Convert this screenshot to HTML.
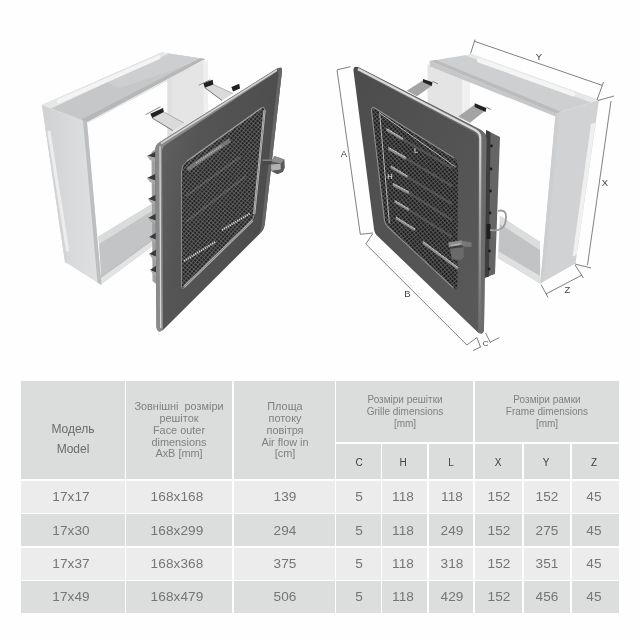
<!DOCTYPE html>
<html lang="uk"><head><meta charset="utf-8"><title>Grille dimensions</title>
<style>
html,body{margin:0;padding:0;background:#fefefe;}
body{width:640px;height:640px;position:relative;overflow:hidden;font-family:"Liberation Sans",sans-serif;}
#art{will-change:transform;position:absolute;left:0;top:0;width:640px;height:370px;}
.c{position:absolute;background:#dbdcdc;}
.l{background:#ececec;}
.d{background:#dcdddd;}
.t{will-change:transform;position:absolute;text-align:center;color:#707070;white-space:nowrap;transform:translate(-50%,-50%);}
.n{font-size:13.6px;letter-spacing:0.1px;color:#757575;}
.h{font-size:10.9px;line-height:11.85px;color:#808080;}
.h2{font-size:10px;}
.m{font-size:12px;color:#6a6a6a;}
.s{font-size:10px;color:#404040;}
</style></head><body>
<div class="c " style="left:20.8px;top:381.0px;width:104.0px;height:98.4px"></div>
<div class="c " style="left:126.3px;top:381.0px;width:106.1px;height:98.4px"></div>
<div class="c " style="left:233.9px;top:381.0px;width:100.9px;height:98.4px"></div>
<div class="c " style="left:336.3px;top:381.0px;width:137.2px;height:61.4px"></div>
<div class="c " style="left:475.0px;top:381.0px;width:144.2px;height:61.4px"></div>
<div class="c " style="left:336.3px;top:443.9px;width:44.6px;height:35.5px"></div>
<div class="c " style="left:382.4px;top:443.9px;width:45.0px;height:35.5px"></div>
<div class="c " style="left:428.9px;top:443.9px;width:44.6px;height:35.5px"></div>
<div class="c " style="left:475.0px;top:443.9px;width:47.2px;height:35.5px"></div>
<div class="c " style="left:523.7px;top:443.9px;width:46.7px;height:35.5px"></div>
<div class="c " style="left:571.9px;top:443.9px;width:47.3px;height:35.5px"></div>
<div class="c l" style="left:20.8px;top:480.9px;width:104.0px;height:31.9px"></div>
<div class="c l" style="left:126.3px;top:480.9px;width:106.1px;height:31.9px"></div>
<div class="c l" style="left:233.9px;top:480.9px;width:100.9px;height:31.9px"></div>
<div class="c l" style="left:336.3px;top:480.9px;width:44.6px;height:31.9px"></div>
<div class="c l" style="left:382.4px;top:480.9px;width:45.0px;height:31.9px"></div>
<div class="c l" style="left:428.9px;top:480.9px;width:44.6px;height:31.9px"></div>
<div class="c l" style="left:475.0px;top:480.9px;width:47.2px;height:31.9px"></div>
<div class="c l" style="left:523.7px;top:480.9px;width:46.7px;height:31.9px"></div>
<div class="c l" style="left:571.9px;top:480.9px;width:47.3px;height:31.9px"></div>
<div class="c d" style="left:20.8px;top:514.3px;width:104.0px;height:32.0px"></div>
<div class="c d" style="left:126.3px;top:514.3px;width:106.1px;height:32.0px"></div>
<div class="c d" style="left:233.9px;top:514.3px;width:100.9px;height:32.0px"></div>
<div class="c d" style="left:336.3px;top:514.3px;width:44.6px;height:32.0px"></div>
<div class="c d" style="left:382.4px;top:514.3px;width:45.0px;height:32.0px"></div>
<div class="c d" style="left:428.9px;top:514.3px;width:44.6px;height:32.0px"></div>
<div class="c d" style="left:475.0px;top:514.3px;width:47.2px;height:32.0px"></div>
<div class="c d" style="left:523.7px;top:514.3px;width:46.7px;height:32.0px"></div>
<div class="c d" style="left:571.9px;top:514.3px;width:47.3px;height:32.0px"></div>
<div class="c l" style="left:20.8px;top:547.8px;width:104.0px;height:31.9px"></div>
<div class="c l" style="left:126.3px;top:547.8px;width:106.1px;height:31.9px"></div>
<div class="c l" style="left:233.9px;top:547.8px;width:100.9px;height:31.9px"></div>
<div class="c l" style="left:336.3px;top:547.8px;width:44.6px;height:31.9px"></div>
<div class="c l" style="left:382.4px;top:547.8px;width:45.0px;height:31.9px"></div>
<div class="c l" style="left:428.9px;top:547.8px;width:44.6px;height:31.9px"></div>
<div class="c l" style="left:475.0px;top:547.8px;width:47.2px;height:31.9px"></div>
<div class="c l" style="left:523.7px;top:547.8px;width:46.7px;height:31.9px"></div>
<div class="c l" style="left:571.9px;top:547.8px;width:47.3px;height:31.9px"></div>
<div class="c d" style="left:20.8px;top:581.3px;width:104.0px;height:31.9px"></div>
<div class="c d" style="left:126.3px;top:581.3px;width:106.1px;height:31.9px"></div>
<div class="c d" style="left:233.9px;top:581.3px;width:100.9px;height:31.9px"></div>
<div class="c d" style="left:336.3px;top:581.3px;width:44.6px;height:31.9px"></div>
<div class="c d" style="left:382.4px;top:581.3px;width:45.0px;height:31.9px"></div>
<div class="c d" style="left:428.9px;top:581.3px;width:44.6px;height:31.9px"></div>
<div class="c d" style="left:475.0px;top:581.3px;width:47.2px;height:31.9px"></div>
<div class="c d" style="left:523.7px;top:581.3px;width:46.7px;height:31.9px"></div>
<div class="c d" style="left:571.9px;top:581.3px;width:47.3px;height:31.9px"></div>
<div class="t m" style="left:73.0px;top:429.0px">Модель</div>
<div class="t m" style="left:73.0px;top:448.5px">Model</div>
<div class="t h" style="left:179.0px;top:430.5px">Зовнішні&nbsp; розміри<br>решіток<br>Face outer<br>dimensions<br>AxB [mm]</div>
<div class="t h" style="left:285.0px;top:430.5px">Площа<br>потоку<br>повітря<br>Air flow in<br>[cm]</div>
<div class="t h h2" style="left:405.0px;top:412.0px">Розміри решітки<br>Grille dimensions<br>[mm]</div>
<div class="t h h2" style="left:546.5px;top:412.0px">Розміри рамки<br>Frame dimensions<br>[mm]</div>
<div class="t s" style="left:358.5px;top:462.0px">C</div>
<div class="t s" style="left:402.5px;top:462.0px">H</div>
<div class="t s" style="left:450.5px;top:462.0px">L</div>
<div class="t s" style="left:498.0px;top:462.0px">X</div>
<div class="t s" style="left:546.0px;top:462.0px">Y</div>
<div class="t s" style="left:593.5px;top:462.0px">Z</div>
<div class="t n" style="left:70.5px;top:496.3px">17x17</div>
<div class="t n" style="left:176.5px;top:496.3px">168x168</div>
<div class="t n" style="left:285.0px;top:496.3px">139</div>
<div class="t n" style="left:358.5px;top:496.3px">5</div>
<div class="t n" style="left:402.5px;top:496.3px">118</div>
<div class="t n" style="left:451.5px;top:496.3px">118</div>
<div class="t n" style="left:498.5px;top:496.3px">152</div>
<div class="t n" style="left:546.5px;top:496.3px">152</div>
<div class="t n" style="left:593.5px;top:496.3px">45</div>
<div class="t n" style="left:70.5px;top:530.0px">17x30</div>
<div class="t n" style="left:176.5px;top:530.0px">168x299</div>
<div class="t n" style="left:285.0px;top:530.0px">294</div>
<div class="t n" style="left:358.5px;top:530.0px">5</div>
<div class="t n" style="left:402.5px;top:530.0px">118</div>
<div class="t n" style="left:451.5px;top:530.0px">249</div>
<div class="t n" style="left:498.5px;top:530.0px">152</div>
<div class="t n" style="left:546.5px;top:530.0px">275</div>
<div class="t n" style="left:593.5px;top:530.0px">45</div>
<div class="t n" style="left:70.5px;top:563.3px">17x37</div>
<div class="t n" style="left:176.5px;top:563.3px">168x368</div>
<div class="t n" style="left:285.0px;top:563.3px">375</div>
<div class="t n" style="left:358.5px;top:563.3px">5</div>
<div class="t n" style="left:402.5px;top:563.3px">118</div>
<div class="t n" style="left:451.5px;top:563.3px">318</div>
<div class="t n" style="left:498.5px;top:563.3px">152</div>
<div class="t n" style="left:546.5px;top:563.3px">351</div>
<div class="t n" style="left:593.5px;top:563.3px">45</div>
<div class="t n" style="left:70.5px;top:596.2px">17x49</div>
<div class="t n" style="left:176.5px;top:596.2px">168x479</div>
<div class="t n" style="left:285.0px;top:596.2px">506</div>
<div class="t n" style="left:358.5px;top:596.2px">5</div>
<div class="t n" style="left:402.5px;top:596.2px">118</div>
<div class="t n" style="left:451.5px;top:596.2px">429</div>
<div class="t n" style="left:498.5px;top:596.2px">152</div>
<div class="t n" style="left:546.5px;top:596.2px">456</div>
<div class="t n" style="left:593.5px;top:596.2px">45</div>
<svg id="art" width="640" height="370" viewBox="0 0 640 370">
<defs>
  <pattern id="mesh" width="3" height="3" patternUnits="userSpaceOnUse" patternTransform="rotate(40)">
    <rect width="3" height="3" fill="#222222"/>
    <rect width="3" height="0.75" fill="#6a6a6a"/>
    <rect width="0.75" height="3" fill="#6a6a6a"/>
  </pattern>
  <pattern id="mesh2" width="3" height="3" patternUnits="userSpaceOnUse" patternTransform="rotate(50)">
    <rect width="3" height="3" fill="#1d1d1d"/>
    <rect width="3" height="0.8" fill="#5e5e5e"/>
    <rect width="0.8" height="3" fill="#5e5e5e"/>
  </pattern>
  <linearGradient id="faceL" x1="0" y1="0.100" x2="1" y2="0.500">
    <stop offset="0" stop-color="#646464"/><stop offset="0.350" stop-color="#555555"/><stop offset="1" stop-color="#4b4b4b"/>
  </linearGradient>
  <linearGradient id="faceR" x1="0" y1="0" x2="1" y2="1">
    <stop offset="0" stop-color="#4c4c4c"/><stop offset="1" stop-color="#5a5a5a"/>
  </linearGradient>
  <linearGradient id="wallL" x1="0" y1="0" x2="1" y2="0">
    <stop offset="0" stop-color="#d0d1d2"/><stop offset="0.500" stop-color="#d9dadb"/><stop offset="1" stop-color="#dfe0e0"/>
  </linearGradient>
  <linearGradient id="wallR" x1="0" y1="0" x2="1" y2="0">
    <stop offset="0" stop-color="#d0d1d2"/><stop offset="0.6" stop-color="#dcdddd"/><stop offset="1" stop-color="#e4e5e5"/>
  </linearGradient>
  <linearGradient id="chrome" x1="0" y1="0" x2="1" y2="0">
    <stop offset="0" stop-color="#8a8a8a"/><stop offset="0.5" stop-color="#d8d8d8"/><stop offset="1" stop-color="#7a7a7a"/>
  </linearGradient>
  <linearGradient id="chromeV" gradientUnits="userSpaceOnUse" x1="0" y1="135" x2="0" y2="330">
    <stop offset="0" stop-color="#dadada"/><stop offset="0.450" stop-color="#a0a0a0"/><stop offset="1" stop-color="#6c6c6c"/>
  </linearGradient>
</defs>

<!-- ================= LEFT ILLUSTRATION ================= -->
<g id="left">
  <!-- inner right wall of frame -->
  <polygon points="167.500,75.500 208,60.800 208,123 167.500,149" fill="#e5e5e6"/>
  <polygon points="167.500,75.500 172,73.900 172,146 167.500,149" fill="#dedfdf"/><polygon points="203.500,62.400 208,60.800 208,123 203.500,126" fill="#efefef"/>
  <!-- bottom panel inner -->
  <polygon points="98.500,236.500 156,201.500 156,243.500 101.500,284" fill="#c3c4c5"/>
  <polygon points="98.500,236.500 156,201.500 156,208.500 99,244" fill="#dadbdb"/>
  <polygon points="101,277.500 156,237.500 156,243.500 101.500,284" fill="#e2e3e3"/>
  <line x1="101" y1="277.500" x2="156" y2="237.500" stroke="#b4b5b6" stroke-width="0.800"/>
  <!-- left wall -->
  <polygon points="42,105 87,122 101.500,285 65,262" fill="url(#wallL)"/>
  <polygon points="42,105 45,106.200 67.500,263.500 65,262" fill="#d2d3d4"/>
  <polygon points="83,120.500 87,122 101.500,285 97.500,282.500" fill="#bdbebf"/>
  <line x1="49" y1="132" x2="67.500" y2="250" stroke="#ededee" stroke-width="3.200" stroke-linecap="round"/>
  <!-- top panel -->
  <polygon points="42,105 162,52.500 205,59 87,122" fill="#c6c7c8"/>
  <polygon points="120,88 205,59 162,52.500 100,79.600" fill="#cdcecf"/>
  <polygon points="42,105 162,52.500 169,53.600 51,108.400" fill="#e6e7e7"/>
  <polygon points="81,119.700 200,58.300 205,59 87,122" fill="#b6b7b8"/>
  <line x1="59" y1="101.200" x2="158.500" y2="57.500" stroke="#f4f4f4" stroke-width="4" stroke-linecap="round"/>
  <line x1="87.500" y1="122.500" x2="205" y2="60.500" stroke="#e2e2e2" stroke-width="1.200"/>
  <!-- clips -->
  <polygon points="152.200,118 163.900,111.900 184,123 172.800,130.600" fill="#dadada"/>
  <line x1="152.200" y1="118" x2="172.800" y2="130.600" stroke="#6a6a6a" stroke-width="0.900"/><line x1="163.900" y1="111.900" x2="184" y2="123" stroke="#9a9a9a" stroke-width="0.700"/>
  <polygon points="150.300,113.750 163,108 163.900,111.900 152.200,118" fill="#222"/>
  <line x1="145.600" y1="114.700" x2="160.600" y2="106.700" stroke="#8a8a8a" stroke-width="1"/>
  <polygon points="204.800,87.700 213.400,84.500 233,93.500 222,100.500" fill="#dadada"/>
  <line x1="204.800" y1="87.700" x2="222" y2="100.500" stroke="#6a6a6a" stroke-width="0.900"/><line x1="213.400" y1="84.500" x2="233" y2="93.500" stroke="#9a9a9a" stroke-width="0.700"/>
  <polygon points="203.300,83 212.700,79.800 213.400,84.500 204.800,87.700" fill="#222"/>
  <line x1="198.600" y1="85.300" x2="210.300" y2="79.800" stroke="#8a8a8a" stroke-width="1"/>
  <polygon points="231.400,86.900 239.200,83.750 240,88.400 233,91.600" fill="#222"/>
  <!-- louvres behind plate -->
  <polygon points="151.500,152 156,149 156,284 152.500,281" fill="#a0a0a0"/>
  <g fill="#3a3a3a">
    <polygon points="147,156 157,151 157,158"/>
    <polygon points="147,178 157,173 157,181"/>
    <polygon points="148,199 157,194 157,202"/>
    <polygon points="148,218 157,213 157,221"/>
    <polygon points="149,237 157,232 157,240"/>
    <polygon points="149,254 157,249 157,257"/>
    <polygon points="150,270 157,265 157,273"/>
  </g>
  <g fill="#a9a9a9">
    <polygon points="147,156 157,158 157,162 150,160"/>
    <polygon points="147,178 157,181 157,185 150,182"/>
    <polygon points="148,199 157,202 157,206 151,203"/>
    <polygon points="148,218 157,221 157,225 151,222"/>
    <polygon points="149,237 157,240 157,244 152,241"/>
    <polygon points="149,254 157,257 157,261 152,258"/>
    <polygon points="150,270 157,273 157,277 153,274"/>
  </g>
  <!-- plate -->
  <path d="M160,142 L277,68.500 Q282.500,66 282,71 L264.800,224 Q264.300,229 260.500,233 L163,330 Q157.500,334 156.500,327 L155.200,150 Q155.200,144.500 160,142 Z" fill="url(#faceL)"/>
  <path d="M279,68 Q282.500,66 282,71 L264.800,224 Q264.300,229 260.500,233 L258,235 Q261,231 261.500,226 L278.500,73 Q278.800,70 277,69.300 Z" fill="#666666"/>
  <path d="M160,142 Q155.200,144.500 155.200,150 L156.500,327 Q157.500,334 163,330 L162,152 Q162,147 166,144.500 L277,71.500 L277,68.500 Z" fill="#8a8a8a"/>
  <path d="M160,146 L160.700,328" stroke="#d6d6d6" stroke-width="1.300" fill="none"/>
  <path d="M161,143.5 L277,70.2" stroke="#d4d4d4" stroke-width="1.5" fill="none"/>
  <!-- mesh -->
  <path d="M187,161 L261.500,108 Q265,105.800 264.600,110 L254.200,214 Q253.700,219 250.500,222.500 L184.500,287.500 Q181.500,290 181.500,286 L181.500,171 Q181.500,165 187,161 Z" fill="url(#mesh)" stroke="#8a8a8a" stroke-width="1"/>
  <g stroke="#8c8c8c" opacity="0.700" fill="none">
    <line x1="187.500" y1="169.500" x2="230" y2="140" stroke-width="4"/>
    <line x1="186" y1="196" x2="240" y2="157" stroke-width="2" opacity="0.500"/>
    <line x1="186" y1="222" x2="246" y2="176" stroke-width="2" opacity="0.500"/>
  </g>
  <g stroke="#d0d0d0" stroke-width="2" fill="none" stroke-dasharray="1.300 0.900">
    <line x1="222" y1="230" x2="250" y2="213.500"/>
    <line x1="184" y1="261" x2="216" y2="241.500"/>
    <line x1="196" y1="163" x2="222" y2="145.500" stroke="#a8a8a8"/>
  </g>
  <path d="M187,161 L261.500,108" stroke="#9c9c9c" stroke-width="1.200" fill="none"/><path d="M264.600,110 L254.200,214" stroke="#c4c4c4" stroke-width="2.200" fill="none"/><path d="M264.600,110 L254.200,214" stroke="#6a6a6a" stroke-width="0.600" fill="none"/>
  <path d="M252.500,220.500 L184,287" stroke="#b8b8b8" stroke-width="2.400" fill="none"/><path d="M252.500,220.500 L184,287" stroke="#555" stroke-width="0.600" fill="none"/>
  <!-- knob -->
  <rect x="262.500" y="159.500" width="11" height="4.800" fill="#484848"/>
  <rect x="262.500" y="159.500" width="11" height="1.400" fill="#8a8a8a"/>
  <polygon points="274.200,156 284.400,159.500 284.800,167.700 282.800,172 277.300,174.300 270.700,170.800 271,164.500" fill="#585858"/>
  <polygon points="274.200,156 284.400,159.500 281,163.500 271.600,161.500" fill="#8e8e8e"/>
  <polygon points="271,164.500 280.500,163.800 280.800,169.500 271.200,170.800" fill="#b2b2b2"/>
</g>

<!-- ================= RIGHT ILLUSTRATION ================= -->
<g id="right">
  <!-- left wall inner -->
  <polygon points="427.500,64 470,79 470,130 427.500,112" fill="#e4e4e5"/><polygon points="462,76.200 470,79 470,130 462,126" fill="#f0f0f0"/>
  <!-- bottom panel inner -->
  <polygon points="500,216 540,242 540.300,283.400 498,258" fill="#c2c3c4"/>
  <polygon points="500,216 540,242 540,250 500,224" fill="#dcdddd"/>
  <polygon points="498,251 540.200,276 540.300,283.400 498,258" fill="#dfe0e0"/>
  <!-- right wall -->
  <polygon points="555.600,113.400 599,100 575.500,263.500 540.300,283.400" fill="#d1d2d3"/>
  <polygon points="555.600,113.400 559.500,112.200 544,281.300 540.300,283.400" fill="#cdcecf"/>
  <polygon points="591,124 595.600,122.500 576.700,255 572.500,256.500" fill="#f0f0f0"/>
  <!-- top panel -->
  <polygon points="429.500,61 555.600,113.400 555.600,116.600 430,66.500" fill="#c6c7c8"/>
  <polygon points="429.500,61 471,54.300 599,100 555.600,113.400" fill="#cecfd0"/>
  <polygon points="465,55.200 472,54 599,100 591,102.500" fill="#e6e7e7"/>
  <polygon points="430,61 436,60 561,111.700 555.600,113.400" fill="#babbbc"/>
  <line x1="479" y1="60.300" x2="573" y2="94.200" stroke="#f4f4f4" stroke-width="4.500" stroke-linecap="round"/>
  <!-- clips -->
  <polygon points="406.700,90.800 423.900,79.800 432.500,85.300 416.900,96.250" fill="#a4a4a4"/>
  <polygon points="423,79 432.500,82.200 431.700,86 423,82.200" fill="#222"/>
  <line x1="432.500" y1="81.400" x2="438" y2="83.750" stroke="#8a8a8a" stroke-width="1"/>
  <polygon points="458.300,116.600 475.500,104 485.600,110.300 470,122.800" fill="#a4a4a4"/>
  <polygon points="474.700,103.300 486.400,108 485.600,111.900 474.700,106.900" fill="#222"/>
  <line x1="486.400" y1="107.200" x2="491" y2="109.500" stroke="#8a8a8a" stroke-width="1"/>
  <!-- side bracket -->
  <polygon points="486,130 500,137 495,274 484,278" fill="#656565"/>
  <polygon points="486,130 490.5,132.3 489,276.5 484,278" fill="#3e3e3e"/>
  <g fill="#1e1e1e">
    <circle cx="491.5" cy="146" r="1.4"/><circle cx="491" cy="169" r="1.4"/><circle cx="490.5" cy="191" r="1.4"/>
    <circle cx="490" cy="213" r="1.4"/><circle cx="489.5" cy="251" r="1.4"/><circle cx="489" cy="269" r="1.4"/>
    <rect x="486.5" y="224" width="4" height="15"/>
  </g>
  <path d="M498,211 Q509,208 505,224 Q502,232 490,230" stroke="#9a9a9a" stroke-width="1.8" fill="none"/>
  <!-- plate -->
  <path d="M353.5,71 Q353,65 359,67.5 L480,129.5 Q486.5,133 486.5,139 L484,328 Q484,336 478,332.5 L378,236.5 Q374.5,233.5 374,229 Z" fill="url(#faceR)"/>
  <path d="M359,67.500 L480,129.5 Q486.5,133 486.5,139 L484,328 Q484,336 478,332.5 L478.5,140 Q478.5,135 474,132.5 L357,70.5 Z" fill="#6c6c6c"/>
  <path d="M480.300,138 L479.800,329" stroke="url(#chromeV)" stroke-width="2.200" fill="none"/>
  <path d="M358,69 L475,130 Q480.500,133 480.300,138" stroke="#dadada" stroke-width="2.400" fill="none"/>
  <!-- mesh -->
  <path d="M371.500,111 Q371,106 375.500,108.500 L454,158 Q458,160.500 458,165 L457.500,286 Q457.500,291.500 453.500,288 L388,227 Q385,224.500 384.500,220.500 Z" fill="url(#mesh2)"/>
  <path d="M454,158 L375.500,108.500 Q371,106 371.500,111 L384.500,220.500 Q385,224.500 388,227 L453.500,288" stroke="#8f8f8f" stroke-width="1.100" fill="none"/>
  <g stroke="#9c9c9c" stroke-width="2.600" opacity="0.85">
    <line x1="386.500" y1="129.500" x2="403" y2="139.500"/>
    <line x1="388.500" y1="148.500" x2="406" y2="158.500"/>
    <line x1="391" y1="167" x2="407.500" y2="177"/>
    <line x1="393" y1="184.500" x2="409" y2="193"/>
    <line x1="394.700" y1="201.500" x2="409" y2="210"/>
    <line x1="396" y1="218" x2="415" y2="230"/>
    <line x1="423" y1="242.500" x2="458" y2="268.500"/>
  </g>
  <g stroke="#e2e2e2" stroke-width="1" fill="none" stroke-dasharray="1 0.800">
    <line x1="386.500" y1="128.500" x2="403" y2="138.500"/>
    <line x1="388.500" y1="147.500" x2="406" y2="157.500"/>
    <line x1="391" y1="166" x2="407.500" y2="176"/>
    <line x1="393" y1="183.500" x2="409" y2="192"/>
    <line x1="394.700" y1="200.500" x2="409" y2="209"/>
    <line x1="396" y1="217" x2="415" y2="229"/>
    <line x1="423" y1="241.500" x2="458" y2="267.500"/>
  </g>
  <g stroke="#5f5f5f" stroke-width="2.200" opacity="0.7">
    <line x1="403" y1="139.500" x2="452" y2="168"/>
    <line x1="406" y1="158.500" x2="452" y2="186"/>
    <line x1="407.500" y1="177" x2="452" y2="204"/>
    <line x1="409" y1="193" x2="452" y2="220"/>
    <line x1="409" y1="210" x2="452" y2="237"/>
  </g>
  <!-- knob -->
  <polygon points="461,240.500 471.500,242.500 471.500,247 461,246.500" fill="#777"/>
  <polygon points="448.300,242.500 461.600,240.300 462,245 449,247.500" fill="#8c8c8c"/>
  <line x1="451" y1="245.700" x2="460.500" y2="243.600" stroke="#b4b4b4" stroke-width="1.200"/>
  <polygon points="449.800,248.400 463.500,247 463.900,257 461,260 452,259.500" fill="#6a6a6a"/>
  <polygon points="449.300,247 462,245.300 463.500,247 449.800,248.800" fill="#3f3f3f"/>
  <!-- dimension lines -->
  <g stroke="#4a4a4a" stroke-width="0.7" fill="none">
    <path d="M337,70 L360.300,234.300"/>
    <path d="M337,69.800 L350.500,66.700"/>
    <path d="M360.300,234.300 L373,233"/>
    <path d="M365.800,244 L466.900,345"/>
    <path d="M365.800,244 L372.500,234"/>
    <path d="M466.900,345 L476.900,337.500 L480.600,347.500"/>
    <path d="M473,350.600 L480.600,346.900"/><path d="M485.600,333 L490.600,343"/><path d="M490.600,342 L499.400,337.500"/>
    <path d="M474.400,41.300 L602,85.300"/>
    <path d="M470.600,53.500 L475,39.500"/>
    <path d="M597,100 L603.5,82"/>
    <path d="M611,101 L587.5,265"/>
    <path d="M598,100.5 L614,96"/>
    <path d="M575,264 L591,268"/>
    <path d="M546,294 L582,275"/>
    <path d="M541,284.5 L548,297.5"/>
    <path d="M575,265 L583.5,278"/>
    <path d="M379,112.500 L455.600,167" stroke="#e8e8e8"/>
    <path d="M379.700,114 L389.400,223.400" stroke="#e8e8e8"/>
  </g>
  <g font-family="Liberation Sans, sans-serif" font-size="9.500" fill="#444" text-anchor="middle">
    <text x="344" y="157">A</text>
    <text x="407.5" y="297">B</text>
    <text x="485.600" y="346" font-size="8">C</text>
    <text x="539" y="60">Y</text>
    <text x="605" y="186">X</text>
    <text x="567.5" y="293">Z</text>
    <text x="416" y="153" fill="#e8e8e8" font-size="7.5">L</text>
    <text x="390" y="179" fill="#e8e8e8" font-size="7.5">H</text>
  </g>
</g>
</svg>
</body></html>
